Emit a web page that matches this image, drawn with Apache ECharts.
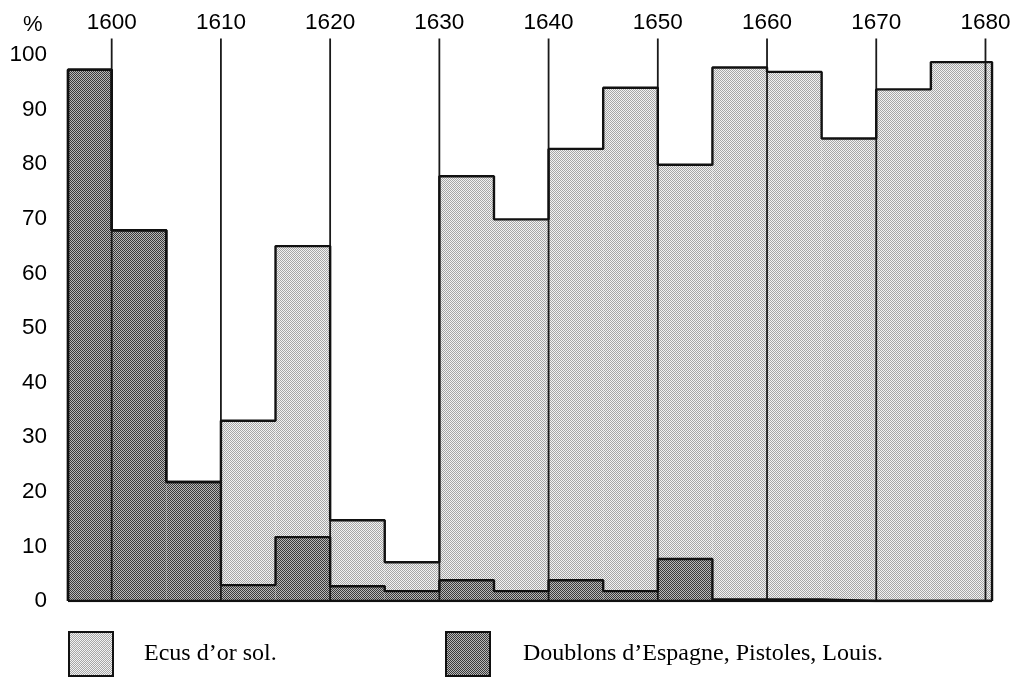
<!DOCTYPE html>
<html>
<head>
<meta charset="utf-8">
<script src="https://cdn.jsdelivr.net/npm/echarts@6/dist/echarts.min.js"></script>
<style>
html,body{margin:0;padding:0;background:#fff;}
#chart{width:1014px;height:679px;}
</style>
</head>
<body>
<div id="chart"></div>
<script>
// ---- data ----
const binStart = [1596, 1600, 1605, 1610, 1615, 1620, 1625, 1630, 1635, 1640, 1645, 1650, 1655, 1660, 1665, 1670, 1675];
const binEnd   = [1600, 1605, 1610, 1615, 1620, 1625, 1630, 1635, 1640, 1645, 1650, 1655, 1660, 1665, 1670, 1675, 1680.6];
const doublons = [97.3, 67.9, 21.8, 2.9, 11.7, 2.7, 1.8, 3.8, 1.8, 3.8, 1.8, 7.7, 0.3, 0.3, 0, 0, 0];
const ecus     = [0, 0, 0, 30.1, 53.3, 12.1, 5.3, 74.0, 68.1, 79.0, 92.2, 72.2, 97.4, 96.6, 84.7, 93.7, 98.7];
const decades  = [1600, 1610, 1620, 1630, 1640, 1650, 1660, 1670, 1680];
const yTicks   = [0, 10, 20, 30, 40, 50, 60, 70, 80, 90, 100];
const nameEcus = 'Ecus d\u2019or sol.';
const nameDoub = 'Doublons d\u2019Espagne, Pistoles, Louis.';

// ---- styles ----
function makePattern(a, b) {
  const c = document.createElement('canvas');
  c.width = 2; c.height = 2;
  const g = c.getContext('2d');
  g.fillStyle = a; g.fillRect(0, 0, 2, 2);
  g.fillStyle = b; g.fillRect(0, 0, 1, 1); g.fillRect(1, 1, 1, 1);
  return { image: c, repeat: 'repeat' };
}
const lightFill = makePattern('#f2f2f2', '#a6a6a6');
const darkFill  = makePattern('#b8b8b8', '#3a3a3a');
const yMax = 103;

// ---- derived series data ----
const doubRects = binStart.map((s, i) => [s, binEnd[i], 0, doublons[i]]);
const ecusRects = binStart.map((s, i) => [s, binEnd[i], doublons[i], doublons[i] + ecus[i]]);

function stepOutline(tops) {
  const pts = [[binStart[0], 0]];
  tops.forEach((t, i) => { pts.push([binStart[i], t]); pts.push([binEnd[i], t]); });
  pts.push([binEnd[binEnd.length - 1], 0]);
  return pts;
}
const darkOutline = stepOutline(doublons);
const lightOutline = stepOutline(doublons.map((d, i) => d + ecus[i]));
const baseline = [[binStart[0], 0], [binEnd[binEnd.length - 1], 0]];

function rectItem(fill) {
  return function (params, api) {
    const p0 = api.coord([api.value(0), api.value(3)]);
    const p1 = api.coord([api.value(1), api.value(2)]);
    return {
      type: 'rect',
      shape: { x: p0[0], y: p0[1], width: p1[0] - p0[0], height: p1[1] - p0[1] },
      style: { fill: fill, stroke: null }
    };
  };
}

const chart = echarts.init(document.getElementById('chart'), null, { renderer: 'canvas' });
const outlineStyle = { color: '#111', width: 2.4 };

chart.setOption({
  animation: false,
  backgroundColor: '#fff',
  grid: { left: 57.08, right: 17.6, top: 38.6, bottom: 78 },
  graphic: [{
    type: 'text', left: 23, top: 14,
    style: { text: '%', font: '22px "Liberation Sans"', fill: '#000' }
  }],
  xAxis: {
    type: 'value', position: 'top', min: 1595, max: 1681, interval: 5,
    axisLine: { show: false }, axisTick: { show: false }, splitLine: { show: false },
    axisLabel: {
      margin: 4, color: '#000', fontSize: 22.5, fontFamily: 'Liberation Sans',
      showMinLabel: true, showMaxLabel: true,
      formatter: v => decades.indexOf(v) >= 0 ? String(v) : ''
    }
  },
  yAxis: {
    type: 'value', min: 0, max: yMax, interval: 10,
    axisLine: { show: false }, axisTick: { show: false }, splitLine: { show: false },
    axisLabel: {
      margin: 10, color: '#000', fontSize: 22.5, fontFamily: 'Liberation Sans',
      formatter: v => yTicks.indexOf(v) >= 0 ? String(v) : ''
    }
  },
  legend: [
    {
      left: 68, top: 631, padding: 0, itemWidth: 44, itemHeight: 44, selectedMode: false,
      icon: 'rect',
      data: [{ name: nameEcus, itemStyle: { color: lightFill, borderColor: '#111', borderWidth: 2 } }],
      textStyle: { fontFamily: 'Liberation Serif', fontSize: 24, color: '#000', padding: [4, 0, 0, 26] }
    },
    {
      left: 445, top: 631, padding: 0, itemWidth: 44, itemHeight: 44, selectedMode: false,
      icon: 'rect',
      data: [{ name: nameDoub, itemStyle: { color: darkFill, borderColor: '#111', borderWidth: 2 } }],
      textStyle: { fontFamily: 'Liberation Serif', fontSize: 24, color: '#000', padding: [4, 0, 0, 28] }
    }
  ],
  series: [
    {
      name: nameEcus, type: 'custom', z: 2, data: ecusRects,
      itemStyle: { color: lightFill },
      encode: { x: [0, 1], y: [2, 3] },
      renderItem: rectItem(lightFill)
    },
    {
      name: nameDoub, type: 'custom', z: 2, data: doubRects,
      itemStyle: { color: darkFill },
      encode: { x: [0, 1], y: [2, 3] },
      renderItem: rectItem(darkFill)
    },
    {
      type: 'custom', z: 3, data: decades.map(d => [d]),
      encode: { x: 0 },
      renderItem: function (params, api) {
        const a = api.coord([api.value(0), 0]);
        const b = api.coord([api.value(0), yMax]);
        return { type: 'line', shape: { x1: a[0], y1: a[1], x2: b[0], y2: b[1] },
                 style: { stroke: '#1a1a1a', lineWidth: 1.8 } };
      }
    },
    { type: 'line', z: 4, data: lightOutline, showSymbol: false, symbol: 'none', lineStyle: outlineStyle, silent: true },
    { type: 'line', z: 4, data: darkOutline, showSymbol: false, symbol: 'none', lineStyle: outlineStyle, silent: true },
    { type: 'line', z: 4, data: baseline, showSymbol: false, symbol: 'none', lineStyle: outlineStyle, silent: true }
  ]
});
</script>
</body>
</html>
